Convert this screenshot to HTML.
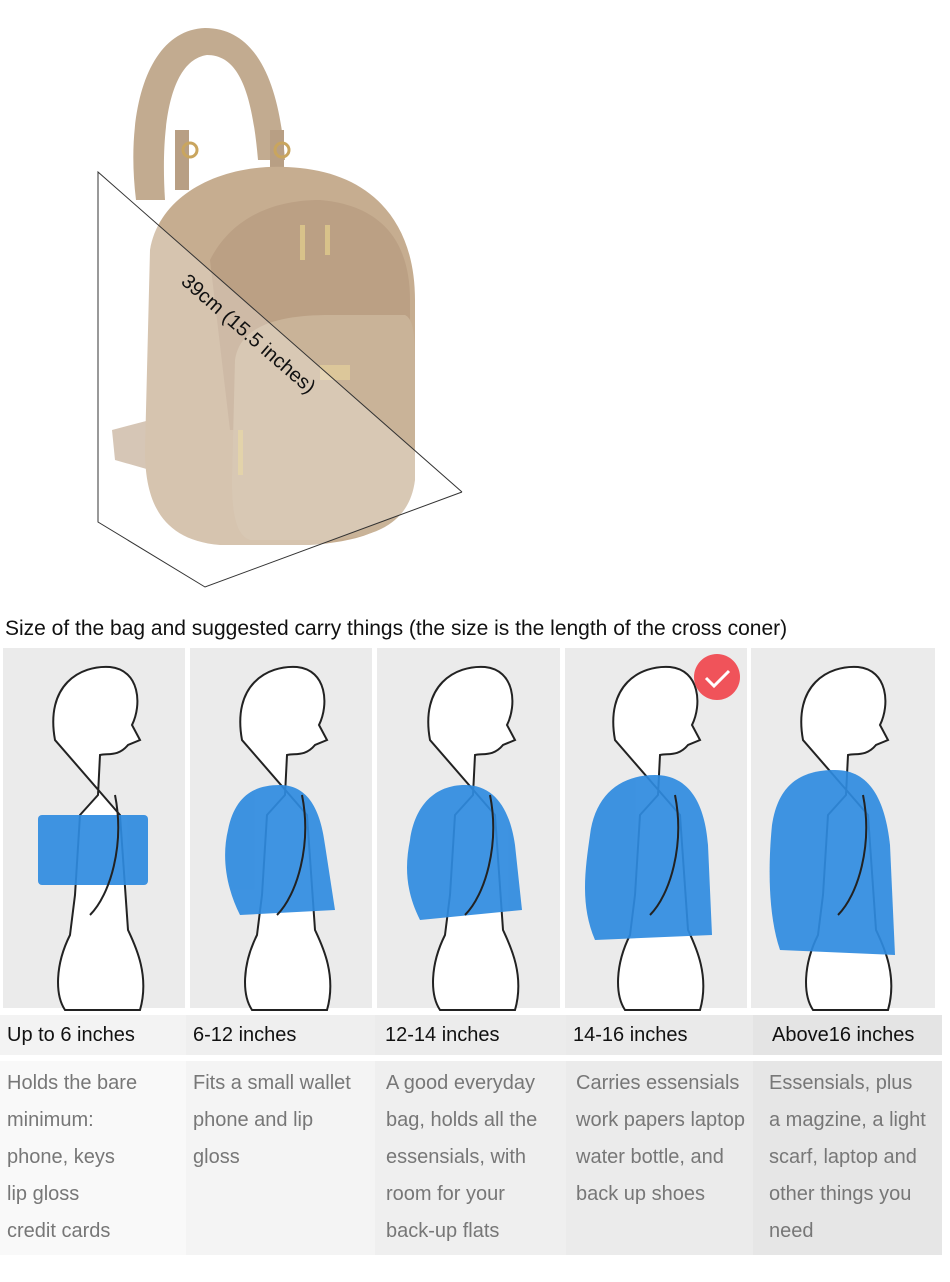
<!DOCTYPE html>
<html><head><style>
body{margin:0;width:950px;height:1282px;background:#fff;position:relative;overflow:hidden;font-family:"Liberation Sans",Arial,sans-serif}
.cap{position:absolute;left:5px;top:617px;font-size:21px;color:#111;white-space:nowrap}
.panel{position:absolute;top:648px;height:360px;background:#ebebeb}
.col{position:absolute;top:1015px}
.hd{height:40px;font-size:20px;color:#111;line-height:40px;padding-left:7px;box-sizing:border-box;white-space:nowrap}
.bd{margin-top:6px;height:194px;font-size:20px;color:#777;line-height:37px;padding-left:7px;padding-top:4px;box-sizing:border-box;white-space:nowrap}
</style></head><body>
<svg width="950" height="600" style="position:absolute;left:0;top:0">
 <path d="M136,200 C125,110 148,30 205,28 C260,28 280,90 285,160 L258,160 C252,90 238,55 207,55 C172,60 160,120 165,200 Z" fill="#c2ab90"/>
 <rect x="175" y="130" width="14" height="60" fill="#b89f84"/>
 <rect x="270" y="130" width="14" height="40" fill="#b89f84"/>
 <circle cx="190" cy="150" r="7" fill="none" stroke="#c9a55e" stroke-width="3"/>
 <circle cx="282" cy="150" r="7" fill="none" stroke="#c9a55e" stroke-width="3"/>
 <path d="M112,430 L150,420 L150,470 L115,460 Z" fill="#c7b09a"/>
 <path d="M150,250 C160,190 230,160 300,168 C370,175 415,220 415,300 L415,460 C415,520 380,540 310,545 L220,545 C160,540 145,500 145,450 Z" fill="#c6ad90"/>
 <path d="M210,260 C230,220 270,200 320,200 C380,205 410,240 410,300 L410,430 L230,430 Z" fill="#bba084"/>
 <path d="M235,360 C240,325 280,315 330,315 L405,315 C415,320 415,340 415,380 L415,480 C410,520 380,540 320,540 L250,540 C235,535 232,510 232,480 Z" fill="#c9b398"/>
 <rect x="300" y="225" width="5" height="35" fill="#d8c28a"/>
 <rect x="325" y="225" width="5" height="30" fill="#d8c28a"/>
 <rect x="320" y="365" width="30" height="15" fill="#dcc79a"/>
 <rect x="238" y="430" width="5" height="45" fill="#d8c28a"/>
 <polygon points="98,172 462,492 205,587 98,522" fill="#fff" fill-opacity="0.28"/>
 <polyline points="462,492 98,172 98,522 205,587 462,492" fill="none" stroke="#333" stroke-width="1"/>
 <text x="0" y="0" font-size="20" fill="#111" transform="translate(180,283) rotate(41)">39cm (15.5 inches)</text>
</svg>
<div class="cap">Size of the bag and suggested carry things (the size is the length of the cross coner)</div>

<div class="panel" style="left:3px;width:182px"></div>
<div class="panel" style="left:190px;width:182px"></div>
<div class="panel" style="left:377px;width:183px"></div>
<div class="panel" style="left:565px;width:182px"></div>
<div class="panel" style="left:751px;width:184px"></div>
<svg width="950" height="370" style="position:absolute;left:0;top:645px">
 <g stroke="#222" stroke-width="2" fill="#fff">
  <path d="M55,95 C45,40 80,20 110,22 C140,25 142,60 132,80 L140,95 L128,100 C118,112 108,108 100,110 L98,150 L80,170 L75,250 L70,290 C55,320 55,350 65,365 L140,365 C150,330 135,300 128,285 L120,170 Z"/>
  <path d="M242,95 C232,40 267,20 297,22 C327,25 329,60 319,80 L327,95 L315,100 C305,112 295,108 287,110 L285,150 L267,170 L262,250 L257,290 C242,320 242,350 252,365 L327,365 C337,330 322,300 315,285 L307,170 Z"/>
  <path d="M430,95 C420,40 455,20 485,22 C515,25 517,60 507,80 L515,95 L503,100 C493,112 483,108 475,110 L473,150 L455,170 L450,250 L445,290 C430,320 430,350 440,365 L515,365 C525,330 510,300 503,285 L495,170 Z"/>
  <path d="M615,95 C605,40 640,20 670,22 C700,25 702,60 692,80 L700,95 L688,100 C678,112 668,108 660,110 L658,150 L640,170 L635,250 L630,290 C615,320 615,350 625,365 L700,365 C710,330 695,300 688,285 L680,170 Z"/>
  <path d="M803,95 C793,40 828,20 858,22 C888,25 890,60 880,80 L888,95 L876,100 C866,112 856,108 848,110 L846,150 L828,170 L823,250 L818,290 C803,320 803,350 813,365 L888,365 C898,330 883,300 876,285 L868,170 Z"/>
 </g>
 <g fill="#2f8be0" opacity="0.92">
  <rect x="38" y="170" width="110" height="70" rx="4"/>
  <path d="M228,185 C235,150 255,140 280,140 C305,140 320,160 325,200 L335,265 L240,270 C225,240 222,210 228,185 Z"/>
  <path d="M410,195 C415,160 435,140 465,140 C495,140 510,165 515,200 L522,265 L420,275 C405,245 405,220 410,195 Z"/>
  <path d="M590,190 C595,150 620,130 655,130 C690,130 705,160 708,200 L712,290 L595,295 C580,260 585,225 590,190 Z"/>
  <path d="M772,180 C778,140 800,125 835,125 C870,125 885,155 890,200 L895,310 L780,305 C768,270 768,220 772,180 Z"/>
 </g>
 <g fill="none" stroke="#222" stroke-width="2">
  <path d="M115,150 C125,200 110,250 90,270"/>
  <path d="M302,150 C312,200 297,250 277,270"/>
  <path d="M490,150 C500,200 485,250 465,270"/>
  <path d="M675,150 C685,200 670,250 650,270"/>
  <path d="M863,150 C873,200 858,250 838,270"/>
 </g>
 <circle cx="717" cy="32" r="23" fill="#f0535a"/>
 <path d="M706,33 L714,41 L729,26" fill="none" stroke="#fff" stroke-width="3"/>
</svg>

<div class="col" style="left:0;width:186px"><div class="hd" style="background:#f3f3f3">Up to 6 inches</div><div class="bd" style="background:#f9f9f9">Holds the bare<br>minimum:<br>phone, keys<br>lip gloss<br>credit cards</div></div>
<div class="col" style="left:186px;width:189px"><div class="hd" style="background:#efefef">6-12 inches</div><div class="bd" style="background:#f4f4f4">Fits a small wallet<br>phone and lip<br>gloss</div></div>
<div class="col" style="left:375px;width:191px"><div class="hd" style="background:#ececec;padding-left:10px">12-14 inches</div><div class="bd" style="background:#efefef;padding-left:11px">A good everyday<br>bag, holds all the<br>essensials, with<br>room for your<br>back-up flats</div></div>
<div class="col" style="left:566px;width:187px"><div class="hd" style="background:#eaeaea">14-16 inches</div><div class="bd" style="background:#ebebeb;padding-left:10px">Carries essensials<br>work papers laptop<br>water bottle, and<br>back up shoes</div></div>
<div class="col" style="left:753px;width:189px"><div class="hd" style="background:#e4e4e4;padding-left:19px">Above16 inches</div><div class="bd" style="background:#e6e6e6;padding-left:16px">Essensials, plus<br>a magzine, a light<br>scarf, laptop and<br>other things you<br>need</div></div>
</body></html>
